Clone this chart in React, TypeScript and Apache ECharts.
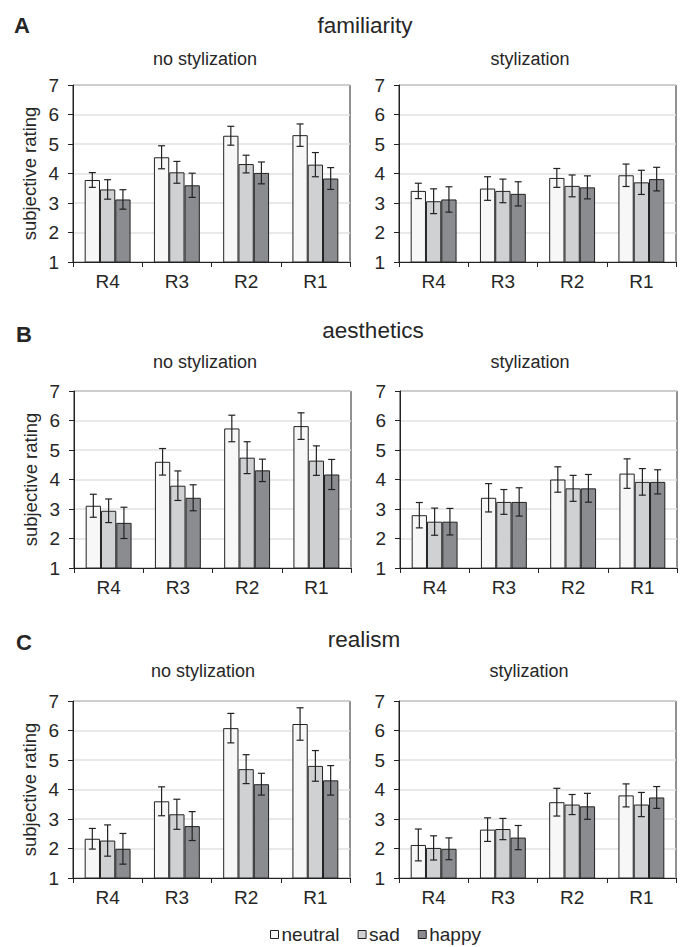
import React, { useEffect, useRef } from "react";
import * as echarts from "echarts";

const categories = ["R4", "R3", "R2", "R1"];
const seriesNames = ["neutral", "sad", "happy"];
const yTicks = [1, 2, 3, 4, 5, 6, 7];

// familiarity
const famNoNeutral = [3.78, 4.55, 5.28, 5.3];
const famNoNeutralErr = [0.25, 0.39, 0.32, 0.38];
const famNoSad = [3.46, 4.04, 4.32, 4.3];
const famNoSadErr = [0.33, 0.37, 0.3, 0.41];
const famNoHappy = [3.12, 3.6, 4.02, 3.83];
const famNoHappyErr = [0.33, 0.41, 0.37, 0.37];
const famStNeutral = [3.41, 3.49, 3.85, 3.94];
const famStNeutralErr = [0.26, 0.4, 0.32, 0.38];
const famStSad = [3.06, 3.41, 3.58, 3.7];
const famStSadErr = [0.42, 0.4, 0.37, 0.41];
const famStHappy = [3.12, 3.31, 3.53, 3.81];
const famStHappyErr = [0.43, 0.41, 0.39, 0.4];

// aesthetics
const aesNoNeutral = [3.11, 4.6, 5.73, 5.81];
const aesNoNeutralErr = [0.39, 0.45, 0.45, 0.45];
const aesNoSad = [2.94, 3.79, 4.74, 4.64];
const aesNoSadErr = [0.4, 0.5, 0.54, 0.5];
const aesNoHappy = [2.53, 3.38, 4.31, 4.17];
const aesNoHappyErr = [0.53, 0.44, 0.38, 0.51];
const aesStNeutral = [2.79, 3.38, 4.0, 4.2];
const aesStNeutralErr = [0.43, 0.48, 0.43, 0.5];
const aesStSad = [2.57, 3.24, 3.7, 3.92];
const aesStSadErr = [0.46, 0.42, 0.44, 0.45];
const aesStHappy = [2.57, 3.24, 3.7, 3.92];
const aesStHappyErr = [0.45, 0.48, 0.47, 0.41];

// realism
const reaNoNeutral = [2.33, 3.6, 6.08, 6.22];
const reaNoNeutralErr = [0.35, 0.49, 0.5, 0.55];
const reaNoSad = [2.27, 3.16, 4.69, 4.8];
const reaNoSadErr = [0.53, 0.51, 0.49, 0.52];
const reaNoHappy = [1.99, 2.76, 4.18, 4.31];
const reaNoHappyErr = [0.52, 0.49, 0.37, 0.5];
const reaStNeutral = [2.12, 2.64, 3.57, 3.8];
const reaStNeutralErr = [0.54, 0.4, 0.47, 0.39];
const reaStSad = [2.02, 2.66, 3.49, 3.49];
const reaStSadErr = [0.41, 0.36, 0.34, 0.41];
const reaStHappy = [1.99, 2.37, 3.43, 3.73];
const reaStHappyErr = [0.37, 0.41, 0.44, 0.37];

const panels = [
  { vals: [famNoNeutral, famNoSad, famNoHappy], errs: [famNoNeutralErr, famNoSadErr, famNoHappyErr] },
  { vals: [famStNeutral, famStSad, famStHappy], errs: [famStNeutralErr, famStSadErr, famStHappyErr] },
  { vals: [aesNoNeutral, aesNoSad, aesNoHappy], errs: [aesNoNeutralErr, aesNoSadErr, aesNoHappyErr] },
  { vals: [aesStNeutral, aesStSad, aesStHappy], errs: [aesStNeutralErr, aesStSadErr, aesStHappyErr] },
  { vals: [reaNoNeutral, reaNoSad, reaNoHappy], errs: [reaNoNeutralErr, reaNoSadErr, reaNoHappyErr] },
  { vals: [reaStNeutral, reaStSad, reaStHappy], errs: [reaStNeutralErr, reaStSadErr, reaStHappyErr] },
];

const FONT = "'Liberation Sans', Arial, Helvetica, sans-serif";
const BAR_COLORS = ["#f7f7f7", "#d0d1d3", "#8b8c8f"];
const DARK = "#222222";
const TEXT = "#262626";
const BAR_W = 15.3;

const gridPos = [
  { left: 73, top: 85 },
  { left: 399, top: 85 },
  { left: 74, top: 391 },
  { left: 400, top: 391 },
  { left: 73, top: 701 },
  { left: 399, top: 701 },
];

export default function App() {
  const ref = useRef<HTMLDivElement>(null);
  useEffect(() => {
    document.body.style.margin = "0";
    if (!ref.current) return;
    const chart = echarts.init(ref.current, null, { renderer: "svg" });

    const grids: any[] = [];
    const xAxes: any[] = [];
    const yAxes: any[] = [];
    const series: any[] = [];

    panels.forEach((p, gi) => {
      grids.push({
        left: gridPos[gi].left,
        top: gridPos[gi].top,
        width: 277,
        height: 177,
        show: true,
        borderColor: DARK,
        borderWidth: 1,
        backgroundColor: "transparent",
      });
      xAxes.push({
        type: "category",
        gridIndex: gi,
        data: categories,
        axisLine: { lineStyle: { color: DARK, width: 1 } },
        axisTick: { show: true, length: 5, lineStyle: { color: DARK } },
        axisLabel: { color: TEXT, fontSize: 19, fontFamily: FONT, margin: 10 },
        splitLine: { show: false },
      });
      yAxes.push({
        type: "value",
        gridIndex: gi,
        min: yTicks[0],
        max: yTicks[yTicks.length - 1],
        interval: 1,
        axisLine: { show: true, lineStyle: { color: DARK, width: 1 } },
        axisTick: { show: true, length: 5, lineStyle: { color: DARK } },
        axisLabel: { color: TEXT, fontSize: 19, fontFamily: FONT, margin: 14 },
        splitLine: { show: true, lineStyle: { color: "#e2e2e2", width: 1.5 } },
        name: gi % 2 === 0 ? "subjective rating" : "",
        nameLocation: "middle",
        nameGap: 34,
        nameTextStyle: { color: TEXT, fontSize: 18.5, fontFamily: FONT },
      });
      p.vals.forEach((vals, si) => {
        series.push({
          type: "bar",
          name: seriesNames[si],
          xAxisIndex: gi,
          yAxisIndex: gi,
          data: vals,
          barWidth: BAR_W,
          barGap: "0%",
          itemStyle: { color: BAR_COLORS[si], borderColor: DARK, borderWidth: 1 },
          z: 2,
        });
      });
      p.vals.forEach((vals, si) => {
        const errs = p.errs[si];
        series.push({
          type: "custom",
          name: "err" + gi + "_" + si,
          xAxisIndex: gi,
          yAxisIndex: gi,
          z: 3,
          silent: true,
          data: vals.map((v, k) => [k, v - errs[k], v + errs[k]]),
          renderItem: (params: any, api: any) => {
            const lo = api.coord([api.value(0), api.value(1)]);
            const hi = api.coord([api.value(0), api.value(2)]);
            const x = lo[0] + (si - 1) * BAR_W;
            const cap = 3.5;
            const st = { stroke: DARK, lineWidth: 1.2 };
            return {
              type: "group",
              children: [
                { type: "line", shape: { x1: x, y1: lo[1], x2: x, y2: hi[1] }, style: st },
                { type: "line", shape: { x1: x - cap, y1: lo[1], x2: x + cap, y2: lo[1] }, style: st },
                { type: "line", shape: { x1: x - cap, y1: hi[1], x2: x + cap, y2: hi[1] }, style: st },
              ],
            };
          },
        });
      });
    });

    const txt = (x: number, y: number, text: string, size: number, bold = false, align = "center") => ({
      type: "text",
      x,
      y,
      style: {
        text,
        fill: TEXT,
        fontSize: size,
        fontFamily: FONT,
        fontWeight: bold ? "bold" : "normal",
        textAlign: align,
        textVerticalAlign: "middle",
      },
    });

    const graphics = [
      txt(14, 25, "A", 22, true, "left"),
      txt(365, 25, "familiarity", 22.5),
      txt(205, 59, "no stylization", 18),
      txt(530, 59, "stylization", 18),
      txt(16, 334, "B", 22, true, "left"),
      txt(373, 330, "aesthetics", 22.5),
      txt(205, 362, "no stylization", 18),
      txt(530, 362, "stylization", 18),
      txt(16, 642, "C", 22, true, "left"),
      txt(364, 639, "realism", 22.5),
      txt(203, 671, "no stylization", 18),
      txt(529, 671, "stylization", 18),
    ];

    chart.setOption({
      animation: false,
      backgroundColor: "#ffffff",
      textStyle: { fontFamily: FONT },
      grid: grids,
      xAxis: xAxes,
      yAxis: yAxes,
      series,
      legend: {
        data: seriesNames,
        left: 270,
        top: 925,
        padding: 0,
        icon: "rect",
        itemWidth: 8,
        itemHeight: 8,
        itemGap: 18,
        itemStyle: { borderColor: DARK, borderWidth: 1 },
        textStyle: { color: TEXT, fontSize: 19, fontFamily: FONT, padding: [0, 0, 0, -2] },
        selectedMode: false,
      },
      graphic: graphics,
    });
    return () => chart.dispose();
  }, []);
  return <div ref={ref} style={{ width: 684, height: 947 }} />;
}
